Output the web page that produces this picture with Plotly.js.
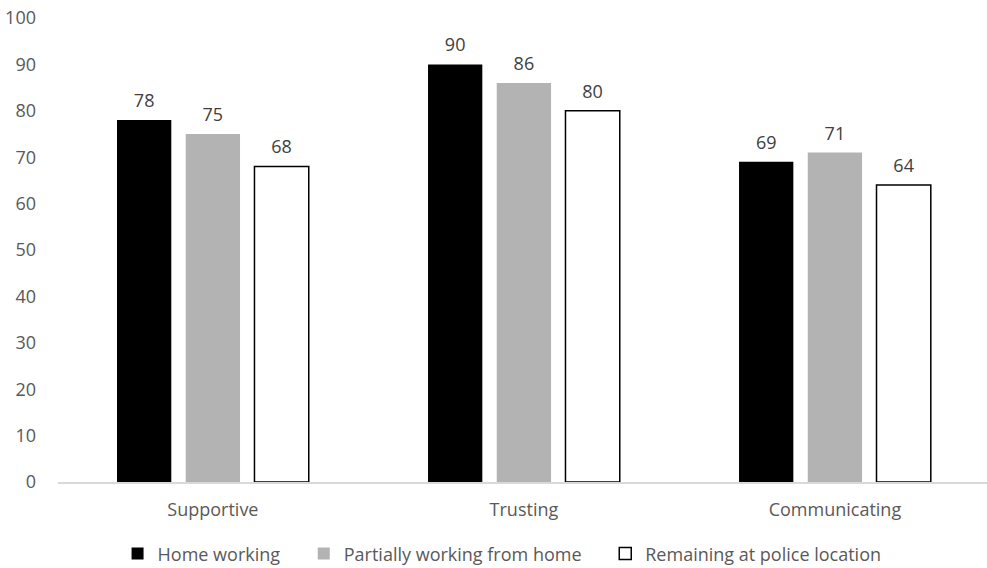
<!DOCTYPE html>
<html>
<head>
<meta charset="utf-8">
<script src="https://cdn.plot.ly/plotly-3.0.1.min.js"></script>
<style>html,body{margin:0;padding:0;background:#fff;}#chart{width:987px;height:568px;}</style>
</head>
<body>
<div id="chart"></div>
<script>
const categories = ["Supportive", "Trusting", "Communicating"];
const homeWorking = [78, 90, 69];
const partiallyHome = [75, 86, 71];
const policeLocation = [68, 80, 64];
const seriesNames = ["Home working", "Partially working from home", "Remaining at police location"];
const yTicks = [0, 10, 20, 30, 40, 50, 60, 70, 80, 90, 100];

const font = {family: "Open Sans, Noto Sans, sans-serif", size: 18, color: "#595959"};
const labelFont = {family: font.family, size: 18, color: "#404040"};
const pad = "\u00a0\u00a0\u00a0\u00a0";

function bar(name, vals, fill, line, grp) {
  return {
    type: "bar", name: name, x: categories, y: vals, offsetgroup: grp,
    marker: {color: fill, line: {color: line, width: line === fill ? 0 : 1.5}},
    hoverinfo: "none"
  };
}
function labels(vals, grp) {
  return {
    type: "scatter", mode: "markers+text", x: categories, y: vals, offsetgroup: grp,
    text: vals.map(String), textposition: "top center", textfont: labelFont,
    marker: {size: 12, opacity: 0}, showlegend: false, cliponaxis: false, hoverinfo: "none"
  };
}

const data = [
  bar(seriesNames[0] + pad, homeWorking, "#000000", "#000000", "a"),
  bar(seriesNames[1] + pad, partiallyHome, "#b3b3b3", "#b3b3b3", "b"),
  bar(seriesNames[2], policeLocation, "#ffffff", "#000000", "c"),
  labels(homeWorking, "a"),
  labels(partiallyHome, "b"),
  labels(policeLocation, "c")
];

const layout = {
  width: 987, height: 568,
  margin: {l: 58, r: 0, t: 18, b: 86, autoexpand: false},
  paper_bgcolor: "#fff", plot_bgcolor: "#fff",
  font: font,
  barmode: "group", bargap: 0.337, bargroupgap: 0.21,
  scattermode: "group", scattergap: 0.337,
  showlegend: true,
  legend: {orientation: "h", x: 0.478, xanchor: "center", y: -0.155, yanchor: "middle", font: font, itemwidth: 30, traceorder: "normal"},
  xaxis: {range: [-0.498, 2.489], showgrid: false, zeroline: false, showline: true, linecolor: "#d9d9d9", linewidth: 2, ticks: "", tickfont: font, ticklabelstandoff: 10},
  yaxis: {range: [0, 100], tickvals: yTicks, ticktext: yTicks.map(String), showgrid: false, zeroline: false, showline: false, ticks: "", tickfont: font, ticklabelstandoff: 21}
};

Plotly.newPlot("chart", data, layout, {displayModeBar: false, staticPlot: true});
</script>
</body>
</html>
